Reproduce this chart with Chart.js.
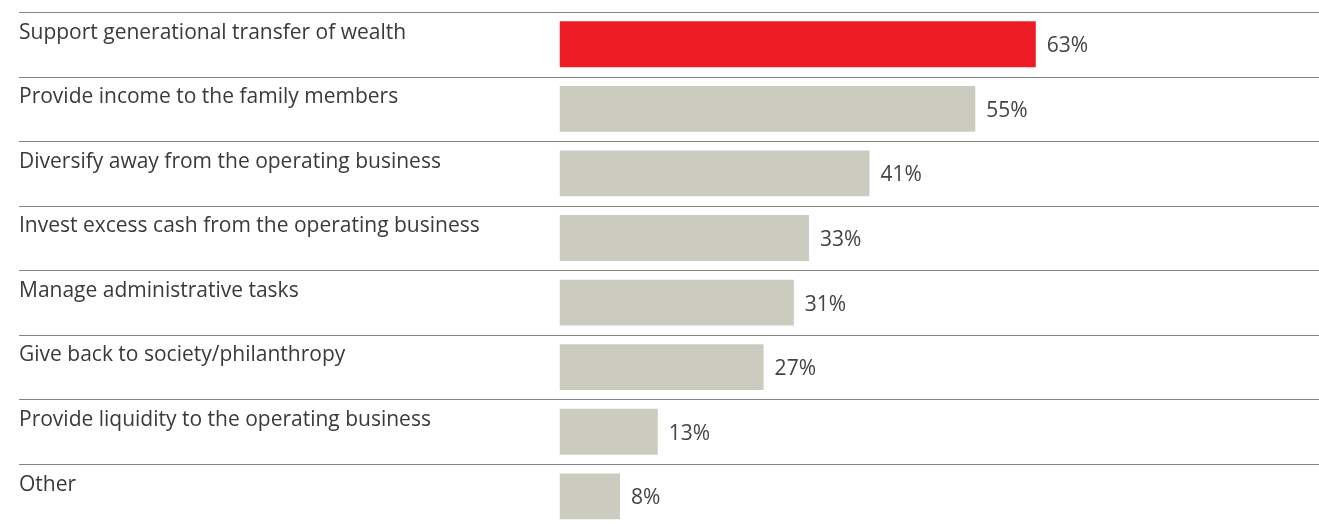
<!DOCTYPE html>
<html>
<head>
<meta charset="utf-8">
<script src="https://cdn.jsdelivr.net/npm/chart.js@4"></script>
<style>
  html, body { margin: 0; padding: 0; background: #fff; overflow: hidden; }
</style>
</head>
<body>
<canvas id="purposeChart" width="1319" height="540"></canvas>
<script>
const categories = [
    'Support generational transfer of wealth',
    'Provide income to the family members',
    'Diversify away from the operating business',
    'Invest excess cash from the operating business',
    'Manage administrative tasks',
    'Give back to society/philanthropy',
    'Provide liquidity to the operating business',
    'Other'
];
const shares = [63, 55, 41, 33, 31, 27, 13, 8];
const barColors = ['#ee1c25', '#cbcbbf', '#cbcbbf', '#cbcbbf', '#cbcbbf', '#cbcbbf', '#cbcbbf', '#cbcbbf'];

const FONT = '21px "Open Sans", sans-serif';

// row separators, row labels and value labels
const rowDecor = {
    id: 'rowDecor',
    beforeDatasetsDraw(chart) {
        const ctx = chart.ctx;
        const yScale = chart.scales.y;
        const rowH = (yScale.bottom - yScale.top) / categories.length;
        ctx.save();
        ctx.strokeStyle = '#858585';
        ctx.lineWidth = 1;
        for (let i = 0; i < categories.length; i++) {
            const top = Math.round(yScale.getPixelForTick(i) - rowH / 2) + 0.5;
            ctx.beginPath();
            ctx.moveTo(19, top);
            ctx.lineTo(chart.width, top);
            ctx.stroke();
        }
        ctx.restore();
    },
    afterDatasetsDraw(chart) {
        const ctx = chart.ctx;
        const yScale = chart.scales.y;
        const rowH = (yScale.bottom - yScale.top) / categories.length;
        const meta = chart.getDatasetMeta(0);
        ctx.save();
        ctx.font = FONT;
        ctx.textBaseline = 'alphabetic';
        ctx.textAlign = 'left';
        categories.forEach((label, i) => {
            const top = yScale.getPixelForTick(i) - rowH / 2;
            ctx.fillStyle = '#3a3a3a';
            ctx.fillText(label, 19, top + 26.5);
            const bar = meta.data[i];
            ctx.fillStyle = '#444444';
            ctx.fillText(shares[i] + '%', bar.x + 11, bar.y + 8);
        });
        ctx.restore();
    }
};

const ctx = document.getElementById('purposeChart').getContext('2d');
new Chart(ctx, {
    type: 'bar',
    data: {
        labels: categories,
        datasets: [
            {
                data: shares,
                backgroundColor: barColors,
                borderWidth: 0,
                categoryPercentage: 0.71,
                barPercentage: 1.0
            }
        ]
    },
    options: {
        indexAxis: 'y',
        responsive: false,
        animation: false,
        layout: {
            padding: { left: 559.5, right: 3.5, top: 12, bottom: 11.4 }
        },
        plugins: {
            legend: { display: false },
            tooltip: { enabled: false }
        },
        scales: {
            x: { display: false, min: 0, max: 100 },
            y: { display: false }
        }
    },
    plugins: [rowDecor]
});
</script>
</body>
</html>
